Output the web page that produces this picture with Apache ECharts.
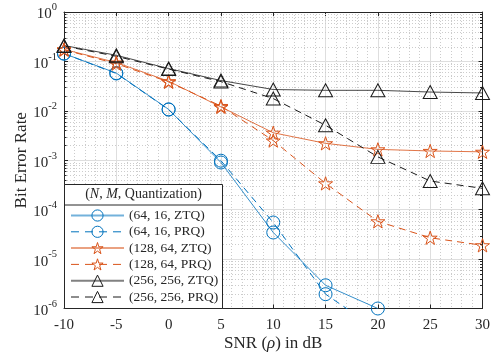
<!DOCTYPE html>
<html><head><meta charset="utf-8">
<script src="https://cdn.jsdelivr.net/npm/echarts@6/dist/echarts.min.js"></script>
<style>html,body{margin:0;padding:0;background:#fff}#c{width:493px;height:361px}</style>
</head><body><div id="c"></div>
<script>
// ---- data ----
const snr = [-10, -5, 0, 5, 10, 15, 20, 25, 30];
const ber_64_16_ZTQ   = [0.144, 0.058, 0.0107, 9.0e-4, 3.45e-5, 2.95e-6, 1.0e-6, null, null];
const ber_64_16_PRQ   = [0.144, 0.057, 0.0106, 9.8e-4, 5.5e-5, 1.95e-6, 3.7e-7, null, null];
const ber_128_64_ZTQ  = [0.175, 0.095, 0.0397, 0.0120, 3.6e-3, 2.2e-3, 1.66e-3, 1.54e-3, 1.48e-3];
const ber_128_64_PRQ  = [0.172, 0.090, 0.0385, 0.0125, 2.5e-3, 3.4e-4, 5.8e-5, 2.7e-5, 1.9e-5];
const ber_256_256_ZTQ = [0.21, 0.133, 0.0716, 0.041, 0.027, 0.026, 0.026, 0.024, 0.023];
const ber_256_256_PRQ = [0.205, 0.127, 0.070, 0.039, 0.0177, 5.1e-3, 1.17e-3, 3.8e-4, 2.7e-4];
const seriesNames = ['(64, 16, ZTQ)', '(64, 16, PRQ)', '(128, 64, ZTQ)', '(128, 64, PRQ)', '(256, 256, ZTQ)', '(256, 256, PRQ)'];
const xLabel = 'SNR ({i|ρ}) in dB';
const yLabel = 'Bit Error Rate';
const legendTitle = '({i|N}, {i|M}, Quantization)';

const FONT = 'Liberation Serif';
const TXT = '#262626';
const BLUE = '#0072BD', ORANGE = '#D95319', BLACK = '#1a1a1a';
const STAR = 'path://M100,0 L122.45,69.1 L195.11,69.1 L136.33,111.8 L158.78,180.9 L100,138.2 L41.22,180.9 L63.67,111.8 L4.89,69.1 L77.55,69.1 Z';
const X_MIN = -10, X_MAX = 30;

// minor log grid positions (2..9 x 10^k)
const minorY = [];
for (let k = -6; k < 0; k++) for (let m = 2; m <= 9; m++) minorY.push([X_MIN, m * Math.pow(10, k)]);

function pts(arr) {
  const out = [];
  arr.forEach((v, i) => { if (v !== null) out.push([snr[i], v]); });
  return out;
}
const colors = [BLUE, BLUE, ORANGE, ORANGE, BLACK, BLACK];
function mk(name, arr, color, symbol, size, dashed) {
  return {
    name, type: 'line', data: pts(arr), z: 3,
    symbol, symbolSize: size, symbolKeepAspect: true,
    clip: true,
    lineStyle: { color, width: 1, type: dashed ? [7, 5] : 'solid', opacity: dashed ? 1 : 0.8 },
    itemStyle: { color: 'rgba(0,0,0,0)', borderColor: color, borderWidth: 1 },
    emphasis: { disabled: true }
  };
}

const chart = echarts.init(document.getElementById('c'), null, { renderer: 'canvas' });
const axisLineStyle = { color: '#262626', width: 1 };
const supLabel = v => '{b|10}{s|' + Math.round(Math.log10(v)) + '}';
const labelRich = {
  b: { fontFamily: FONT, fontSize: 15, color: TXT, lineHeight: 20, verticalAlign: 'bottom' },
  s: { fontFamily: FONT, fontSize: 10.5, color: TXT, lineHeight: 20, verticalAlign: 'top' }
};

chart.setOption({
  animation: false,
  grid: { left: 64, right: 8, top: 12, bottom: 52.5 },
  xAxis: [{
    type: 'value', min: X_MIN, max: X_MAX, interval: 5, position: 'bottom',
    name: xLabel, nameLocation: 'middle', nameGap: 27, nameMoveOverlap: false,
    nameTextStyle: { fontFamily: FONT, fontSize: 17, color: TXT, rich: { i: { fontFamily: FONT, fontSize: 17, fontStyle: 'italic', color: TXT } } },
    axisLine: { show: true, onZero: false, lineStyle: axisLineStyle },
    axisTick: { show: true, inside: true, length: 4, lineStyle: axisLineStyle },
    axisLabel: { fontFamily: FONT, fontSize: 15, color: TXT, margin: 9 },
    splitLine: { show: true, lineStyle: { color: '#dedede', width: 1 } },
    minorTick: { show: false, splitNumber: 5 },
    minorSplitLine: { show: true, lineStyle: { color: '#cccccc', type: [1, 2], width: 1 } }
  }, {
    type: 'value', min: X_MIN, max: X_MAX, interval: 5, position: 'top',
    axisLine: { show: true, onZero: false, lineStyle: axisLineStyle },
    axisTick: { show: true, inside: true, length: 4, lineStyle: axisLineStyle },
    axisLabel: { show: false }, splitLine: { show: false }
  }],
  yAxis: [{
    type: 'log', logBase: 10, min: 1e-6, max: 1, interval: 1, position: 'left',
    name: yLabel, nameLocation: 'middle', nameGap: 34, nameMoveOverlap: false,
    nameTextStyle: { fontFamily: FONT, fontSize: 17, color: TXT },
    axisLine: { show: true, onZero: false, lineStyle: axisLineStyle },
    axisTick: { show: true, inside: true, length: 4, lineStyle: axisLineStyle },
    axisLabel: { formatter: supLabel, rich: labelRich, margin: 7 },
    splitLine: { show: true, lineStyle: { color: '#dedede', width: 1 } }
  }, {
    type: 'log', logBase: 10, min: 1e-6, max: 1, interval: 1, position: 'right',
    axisLine: { show: true, onZero: false, lineStyle: axisLineStyle },
    axisTick: { show: true, inside: true, length: 4, lineStyle: axisLineStyle },
    axisLabel: { show: false }, splitLine: { show: false }
  }],
  legend: {
    orient: 'vertical', left: 70, top: 208.5, padding: 0,
    itemWidth: 53, itemHeight: 14, itemGap: 2.3,
    textStyle: { fontFamily: FONT, fontSize: 13.5, color: TXT, lineHeight: 14 },
    selectedMode: false,
    data: seriesNames.map((n, i) => ({
      name: n,
      itemStyle: { color: 'rgba(0,0,0,0)', borderColor: colors[i], borderWidth: 1 },
      lineStyle: i % 2 === 0
        ? { color: colors[i], width: 2, opacity: 0.55, type: 'solid' }
        : { color: colors[i], width: 1, opacity: 1, type: [8, 6] }
    }))
  },
  graphic: [
    { type: 'rect', shape: { x: 64.5, y: 184.5, width: 158, height: 124 }, style: { fill: '#fff', stroke: '#262626', lineWidth: 1 }, z: 4 },
    { type: 'line', shape: { x1: 64.5, y1: 205, x2: 222.5, y2: 205 }, style: { stroke: '#262626', lineWidth: 1 }, z: 4 },
    { type: 'text', x: 143.5, y: 194.5, z: 5, style: {
        text: legendTitle, x: 0, y: 0, align: 'center', verticalAlign: 'middle',
        fontFamily: FONT, fontSize: 14, fill: TXT,
        rich: { i: { fontFamily: FONT, fontSize: 14, fontStyle: 'italic', fill: TXT } } } }
  ],
  series: [
    {
      name: 'minorGrid', type: 'custom', silent: true, z: 1, clip: false,
      data: minorY,
      renderItem: (params, api) => {
        const p0 = api.coord([X_MIN, api.value(1)]);
        const p1 = api.coord([X_MAX, api.value(1)]);
        const y = Math.round(p0[1]) + 0.5;
        return { type: 'group', children: [
          { type: 'line', shape: { x1: p0[0], y1: y, x2: p1[0], y2: y }, style: { stroke: '#cccccc', lineWidth: 1, lineDash: [1, 2] } },
          { type: 'line', shape: { x1: p0[0], y1: y, x2: p0[0] + 2.5, y2: y }, style: { stroke: '#262626', lineWidth: 1 } },
          { type: 'line', shape: { x1: p1[0], y1: y, x2: p1[0] - 2.5, y2: y }, style: { stroke: '#262626', lineWidth: 1 } }
        ] };
      }
    },
    mk(seriesNames[0], ber_64_16_ZTQ, BLUE, 'circle', 13, false),
    mk(seriesNames[1], ber_64_16_PRQ, BLUE, 'circle', 13, true),
    mk(seriesNames[2], ber_128_64_ZTQ, ORANGE, STAR, 14, false),
    mk(seriesNames[3], ber_128_64_PRQ, ORANGE, STAR, 14, true),
    mk(seriesNames[4], ber_256_256_ZTQ, BLACK, 'triangle', [14, 13], false),
    mk(seriesNames[5], ber_256_256_PRQ, BLACK, 'triangle', [14, 13], true)
  ]
});
</script></body></html>
